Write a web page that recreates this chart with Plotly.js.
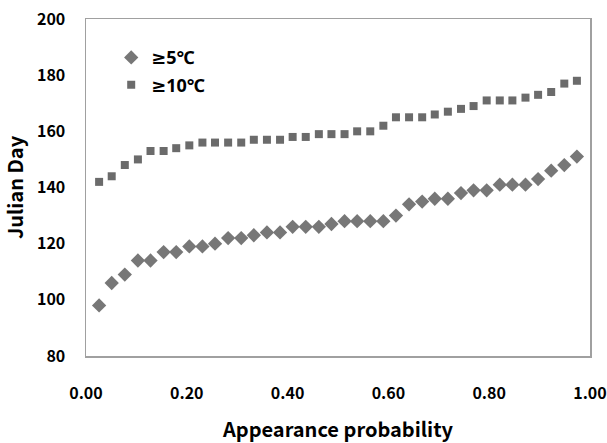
<!DOCTYPE html>
<html>
<head>
<meta charset="utf-8">
<script src="https://cdn.plot.ly/plotly-3.0.1.min.js"></script>
<style>html,body{margin:0;padding:0;background:#fff;}#chart{width:607px;height:443px;}</style>
</head>
<body>
<div id="chart"></div>
<script>
// Appearance probability (plotting positions i/39, i = 1..38)
const probability = [0.026,0.051,0.077,0.103,0.128,0.154,0.179,0.205,0.231,0.256,0.282,0.308,0.333,0.359,0.385,0.410,0.436,0.462,0.487,0.513,0.538,0.564,0.590,0.615,0.641,0.667,0.692,0.718,0.744,0.769,0.795,0.821,0.846,0.872,0.897,0.923,0.949,0.974];
const day5 = [98,106,109,114,114,117,117,119,119,120,122,122,123,124,124,126,126,126,127,128,128,128,128,130,134,135,136,136,138,139,139,141,141,141,143,146,148,151];
const day10 = [142,144,148,150,153,153,154,155,156,156,156,156,157,157,157,158,158,159,159,159,160,160,162,165,165,165,166,167,168,169,171,171,171,172,173,174,177,178];
const seriesNames = ["≥5℃", "≥10℃"];
const xTicks = [0, 0.2, 0.4, 0.6, 0.8, 1.0];
const yTicks = [80, 100, 120, 140, 160, 180, 200];

const FONT = '"Noto Sans CJK KR", "Noto Sans", Arial, sans-serif';
const LFONT = '"Noto Sans", "DejaVu Sans", "Noto Sans CJK KR", sans-serif';

const traces = [
  {x: probability, y: day5, name: seriesNames[0], type: 'scatter', mode: 'markers', legendgroup: 'a',
   marker: {symbol: 'diamond', size: 11, color: '#777777'}},
  {x: probability, y: day10, name: seriesNames[1], type: 'scatter', mode: 'markers', legendgroup: 'b',
   marker: {symbol: 'square', size: 8, color: '#6b6b6b'}}
];

const layout = {
  width: 607, height: 443,
  margin: {l: 86, r: 17, t: 19, b: 87},
  paper_bgcolor: '#ffffff', plot_bgcolor: '#ffffff',
  font: {family: FONT, size: 13, color: '#000'},
  showlegend: true,
  legend: {x: 0.05, y: 0.94, xanchor: 'left', yanchor: 'top', bgcolor: 'rgba(0,0,0,0)',
           font: {family: LFONT, size: 18, color: '#000', weight: 'bold'},
           traceorder: 'grouped', tracegroupgap: 1, itemwidth: 30},
  xaxis: {range: [0, 1], tickvals: xTicks, ticktext: xTicks.map(v => v.toFixed(2)),
          showgrid: false, zeroline: false, showline: true, linecolor: '#a0a0a0', linewidth: 1.5, mirror: true,
          ticks: '', ticklabelstandoff: 22,
          tickfont: {family: FONT, size: 16, color: '#000', weight: 'bold'},
          title: {text: 'Appearance probability', standoff: 22, font: {family: FONT, size: 20, color: '#000', weight: 'bold'}}},
  yaxis: {range: [80, 200], tickvals: yTicks, ticktext: yTicks.map(String),
          showgrid: false, zeroline: false, showline: true, linecolor: '#a0a0a0', linewidth: 1.5, mirror: true,
          ticks: '', ticklabelstandoff: 16,
          tickfont: {family: FONT, size: 16, color: '#000', weight: 'bold'},
          title: {text: 'Julian Day', standoff: 18, font: {family: FONT, size: 20, color: '#000', weight: 'bold'}}}
};

Plotly.newPlot('chart', traces, layout, {displayModeBar: false, staticPlot: true});
</script>
</body>
</html>
